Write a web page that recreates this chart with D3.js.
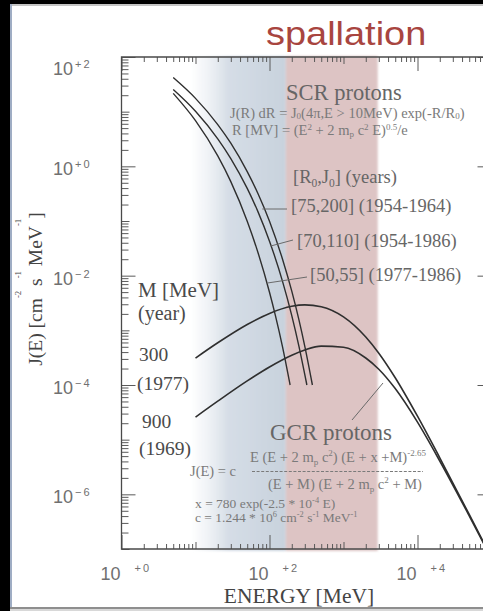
<!DOCTYPE html>
<html>
<head>
<meta charset="utf-8">
<script src="https://cdn.jsdelivr.net/npm/d3@7"></script>
<style>
  html, body { margin: 0; padding: 0; background: #000; }
  svg { display: block; }
</style>
</head>
<body>
<script>
// ---- data -------------------------------------------------------------
// Solar cosmic ray (SCR) proton spectra, energy in MeV, J(E) in cm^-2 s^-1 MeV^-1
const scrE_75_200 = [5, 10, 20, 30, 50, 70, 100, 150, 200, 250, 300, 380];
const scrJ_75_200 = [42, 17.5, 5.8, 2.65, 0.80, 0.315, 0.099, 0.020, 5.2e-3, 1.55e-3, 5.1e-4, 1.0e-4];

const scrE_70_110 = [5, 10, 20, 30, 50, 70, 100, 150, 200, 250, 300, 320];
const scrJ_70_110 = [25.5, 10.2, 3.19, 1.39, 0.395, 0.147, 0.0428, 7.85e-3, 1.86e-3, 5.1e-4, 1.55e-4, 1.0e-4];

const scrE_50_55 = [5, 10, 20, 30, 50, 70, 100, 120, 150, 190];
const scrJ_50_55 = [21.6, 6.85, 1.55, 0.526, 0.0993, 0.0263, 4.98e-3, 1.88e-3, 5.0e-4, 1.0e-4];

// Galactic cosmic ray (GCR) proton spectra for two modulation levels M
const gcrE = [10, 20, 50, 100, 200, 300, 500, 1000, 2000, 3000, 5000, 10000, 20000, 50000, 100000];
const gcrJ_M300 = [3.11e-4, 5.92e-4, 1.28e-3, 2.04e-3, 2.75e-3, 2.92e-3, 2.70e-3, 1.76e-3, 7.55e-4, 3.82e-4, 1.36e-4, 2.69e-5, 4.66e-6, 4.28e-7, 6.9e-8];
const gcrJ_M900 = [2.59e-5, 5.07e-5, 1.19e-4, 2.14e-4, 3.51e-4, 4.37e-4, 5.14e-4, 4.90e-4, 3.12e-4, 1.94e-4, 8.59e-5, 2.09e-5, 4.07e-6, 4.05e-7, 6.7e-8];

// shaded energy bands (MeV)
const blueBand = [8.5, 166];
const pinkBand = [166, 2900];

// axis decades
const energyDomain = [1, 1e5];
const fluxDomain = [1e-7, 1e2];
const energyLabelExps = [0, 2, 4];
const fluxLabelExps = [2, 0, -2, -4, -6];

// ---- layout -----------------------------------------------------------
const W = 483, H = 611;
const plot = { left: 121.5, right: 491.5, top: 57, bottom: 549 };

const x = d3.scaleLog().domain(energyDomain).range([plot.left, plot.right]);
const y = d3.scaleLog().domain(fluxDomain).range([plot.bottom, plot.top]);

const SERIF = "'Liberation Serif', 'Times New Roman', serif";
const SANS = "'Liberation Sans', Arial, sans-serif";

const svg = d3.select("body").append("svg")
  .attr("width", W).attr("height", H)
  .attr("viewBox", `0 0 ${W} ${H}`);

// frame of the slide
svg.append("rect").attr("width", W).attr("height", H).attr("fill", "#000");
svg.append("rect").attr("x", 10).attr("y", 4).attr("width", W - 10).attr("height", 604).attr("fill", "#fff");
svg.append("rect").attr("x", 10).attr("y", 608).attr("width", W - 10).attr("height", 3).attr("fill", "#d8d8d8");
svg.append("line").attr("x1", 10).attr("x2", W).attr("y1", 5).attr("y2", 5)
  .attr("stroke", "#c4c4c4").attr("stroke-width", 2);
svg.append("line").attr("x1", 11).attr("x2", 11).attr("y1", 4).attr("y2", 609)
  .attr("stroke", "#9fadc4").attr("stroke-width", 2);
svg.append("line").attr("x1", 10).attr("x2", W).attr("y1", 608).attr("y2", 608)
  .attr("stroke", "#8e8e8e").attr("stroke-width", 2);

const defs = svg.append("defs");
const fade = defs.append("linearGradient").attr("id", "blueFade")
  .attr("x1", "0%").attr("x2", "100%").attr("y1", "0%").attr("y2", "0%");
fade.append("stop").attr("offset", "0%").attr("stop-color", "#e4e9ef").attr("stop-opacity", 0);
fade.append("stop").attr("offset", "40%").attr("stop-color", "#d5dde6").attr("stop-opacity", 1);
fade.append("stop").attr("offset", "100%").attr("stop-color", "#c8d2dd").attr("stop-opacity", 1);
const soft = defs.append("filter").attr("id", "soft")
  .attr("x", "-5%").attr("y", "-2%").attr("width", "110%").attr("height", "104%");
soft.append("feGaussianBlur").attr("stdDeviation", 0.8);
defs.append("clipPath").attr("id", "plotClip").append("rect")
  .attr("x", plot.left).attr("y", plot.top)
  .attr("width", plot.right - plot.left).attr("height", plot.bottom - plot.top);

// ---- energy bands -----------------------------------------------------
const bands = svg.append("g").attr("filter", "url(#soft)");
bands.append("rect")
  .attr("x", x(blueBand[0])).attr("y", plot.top - 1)
  .attr("width", x(blueBand[1]) - x(blueBand[0])).attr("height", plot.bottom - plot.top + 3)
  .attr("fill", "url(#blueFade)");
bands.append("rect")
  .attr("x", x(pinkBand[0])).attr("y", plot.top - 1)
  .attr("width", x(pinkBand[1]) - x(pinkBand[0])).attr("height", plot.bottom - plot.top + 3)
  .attr("fill", "#ddc4c4");

// ---- axes -------------------------------------------------------------
function decadeValues(lo, hi, mults) {
  const out = [];
  for (let e = lo; e <= hi; e++) mults.forEach(m => out.push(m * Math.pow(10, e)));
  return out;
}
const xMinor = decadeValues(0, 4, [2, 3, 4, 5, 6, 7, 8, 9]);
const xOdd = [1e1, 1e3];
const xMajor = [1, 1e2, 1e4];
const yMinor = decadeValues(-7, 1, [2, 3, 4, 5, 6, 7, 8, 9]);
const yOdd = [1e-7, 1e-5, 1e-3, 1e-1, 1e1];
const yMajor = [1e-6, 1e-4, 1e-2, 1, 1e2];

function tickLayer(axisMaker, scale, values, size, tx, ty) {
  const g = svg.append("g").attr("transform", `translate(${tx},${ty})`)
    .call(axisMaker(scale).tickValues(values).tickSize(size).tickFormat(""));
  g.select(".domain").remove();
  g.selectAll(".tick line").attr("stroke", "#5a5a5a").attr("stroke-width", 1);
  return g;
}
[[xMinor, 5], [xOdd, 7], [xMajor, 14]].forEach(([v, s]) => {
  tickLayer(d3.axisBottom, x, v, -s, 0, plot.bottom);
  tickLayer(d3.axisTop, x, v, -s, 0, plot.top);
});
[[yMinor, 7], [yOdd, 8], [yMajor, 14]].forEach(([v, s]) => {
  tickLayer(d3.axisLeft, y, v, -s, plot.left, 0);
  tickLayer(d3.axisRight, y, v, -s, plot.right, 0);
});

svg.append("path")
  .attr("d", `M${plot.right},${plot.top}H${plot.left}V${plot.bottom}H${plot.right}`)
  .attr("fill", "none").attr("stroke", "#4a4a4a").attr("stroke-width", 1.3);

// tick labels, "10" with a raised exponent
const tickColor = "#707070";
fluxLabelExps.forEach(e => {
  const base = Math.max(y(Math.pow(10, e)) + 9, plot.top + 18);
  const t = svg.append("text").attr("x", 53).attr("y", base)
    .attr("font-family", SANS).attr("font-size", 18).attr("fill", tickColor);
  t.append("tspan").text("10");
  t.append("tspan").attr("dx", 2).attr("dy", -7).attr("font-size", 11)
    .attr("letter-spacing", 2).text(e >= 0 ? "+" + e : "\u2212" + (-e));
});
energyLabelExps.forEach(e => {
  const px = x(Math.pow(10, e));
  svg.append("text").attr("x", px - 1).attr("y", 579.5).attr("text-anchor", "end")
    .attr("font-family", SANS).attr("font-size", 18).attr("fill", tickColor).text("10");
  svg.append("text").attr("x", px + 13).attr("y", 572)
    .attr("font-family", SANS).attr("font-size", 11).attr("letter-spacing", 2)
    .attr("fill", tickColor).text("+" + e);
});

// axis titles
svg.append("text").attr("x", 299).attr("y", 603).attr("text-anchor", "middle")
  .attr("font-family", SERIF).attr("font-size", 21.5).attr("fill", "#444")
  .text("ENERGY [MeV]");

function rich(parent, px, py, parts, size, color, opts) {
  const o = Object.assign({ raise: 0.42, drop: 0.22, ratio: 0.62 }, opts || {});
  const t = parent.append("text").attr("x", px).attr("y", py)
    .attr("font-family", SERIF).attr("font-size", size).attr("fill", color);
  const small = size * o.ratio;
  let shift = 0;
  parts.forEach(p => {
    const [s, kind] = typeof p === "string" ? [p, "n"] : p;
    const target = kind === "sup" ? -size * o.raise : kind === "sub" ? size * o.drop : 0;
    const ts = t.append("tspan").attr("dy", target - shift).text(s);
    if (kind !== "n") ts.attr("font-size", small);
    shift = target;
  });
  return t;
}

rich(svg, 0, 0, ["J(E) [cm", ["-2", "sup"], " s", ["-1", "sup"], " MeV", ["-1", "sup"], "]"], 19.5, "#444",
  { raise: 1.1, ratio: 0.45 })
  .attr("text-anchor", "middle").attr("transform", "translate(42,289) rotate(-90)");

// ---- title -----------------------------------------------------------
svg.append("text").attr("transform", "translate(266,45) scale(1.15,1)")
  .attr("font-family", SANS).attr("font-size", 33).attr("fill", "#a8453f")
  .text("spallation");

// ---- curves ----------------------------------------------------------
const line = d3.line().x(d => x(d[0])).y(d => y(d[1])).curve(d3.curveMonotoneX);
const curves = svg.append("g").attr("clip-path", "url(#plotClip)")
  .attr("fill", "none").attr("stroke", "#2f2f2f");
[[scrE_75_200, scrJ_75_200], [scrE_70_110, scrJ_70_110], [scrE_50_55, scrJ_50_55]].forEach(([E, J]) => {
  curves.append("path").attr("d", line(E.map((e, i) => [e, J[i]]))).attr("stroke-width", 1.4);
});
[gcrJ_M300, gcrJ_M900].forEach(J => {
  curves.append("path").attr("d", line(gcrE.map((e, i) => [e, J[i]]))).attr("stroke-width", 1.6);
});

// ---- SCR annotations --------------------------------------------------
const scrGrey = "#666";
svg.append("text").attr("x", 286).attr("y", 99.5).attr("font-family", SERIF)
  .attr("font-size", 22.5).attr("fill", scrGrey).text("SCR protons");
rich(svg, 230, 117.5, ["J(R) dR = J", ["0", "sub"], "(4\u03c0,E > 10MeV) exp(-R/R", ["0", "sub"], ")"], 14.5, "#7a7a7a", { drop: 0.1 });
rich(svg, 232, 134.5, ["R [MV] = (E", ["2", "sup"], " + 2 m", ["p", "sub"], " c", ["2", "sup"], " E)", ["0.5", "sup"], "/e"], 14.5, "#7a7a7a", { raise: 0.34, drop: 0.14 });
rich(svg, 293, 183, ["[R", ["0", "sub"], ",J", ["0", "sub"], "] (years)"], 18.5, scrGrey);
rich(svg, 291, 212, ["[75,200] (1954-1964)"], 18.5, scrGrey);
rich(svg, 297, 247, ["[70,110] (1954-1986)"], 18.5, scrGrey);
rich(svg, 310, 281, ["[50,55] (1977-1986)"], 18.5, scrGrey);

const leaders = svg.append("g").attr("stroke", "#6a6a6a").attr("stroke-width", 1);
leaders.append("line").attr("x1", x(80)).attr("y1", 209).attr("x2", 287).attr("y2", 209);
leaders.append("line").attr("x1", x(104)).attr("y1", 246).attr("x2", 293).attr("y2", 240);
leaders.append("line").attr("x1", x(94)).attr("y1", 283).attr("x2", 307).attr("y2", 277);
leaders.append("line").attr("x1", 352).attr("y1", 420).attr("x2", 383).attr("y2", 383);

// ---- GCR annotations --------------------------------------------------
const gcrDark = "#4a4a4a";
rich(svg, 138, 297, ["M [MeV]"], 21, gcrDark);
rich(svg, 138, 320, ["(year)"], 20, gcrDark);
rich(svg, 139, 361, ["300"], 19.5, gcrDark);
rich(svg, 137, 390, ["(1977)"], 19.5, gcrDark);
rich(svg, 142, 428, ["900"], 19.5, gcrDark);
rich(svg, 139, 455, ["(1969)"], 19.5, gcrDark);

const fGrey = "#7a7a7a";
svg.append("text").attr("x", 270).attr("y", 440).attr("font-family", SERIF)
  .attr("font-size", 23).attr("fill", scrGrey).text("GCR protons");
rich(svg, 250, 462, ["E (E + 2 m", ["p", "sub"], " c", ["2", "sup"], ") (E + x +M)", ["-2.65", "sup"]], 14.5, fGrey);
rich(svg, 190, 476, ["J(E) = c"], 14.5, fGrey);
svg.append("line").attr("x1", 252).attr("x2", 423).attr("y1", 471.5).attr("y2", 471.5)
  .attr("stroke", fGrey).attr("stroke-width", 1).attr("stroke-dasharray", "3,1.6");
rich(svg, 268, 489, ["(E + M) (E + 2 m", ["p", "sub"], " c", ["2", "sup"], " + M)"], 14.5, fGrey);
rich(svg, 195, 507.5, ["x = 780 exp(-2.5 * 10", ["-4", "sup"], " E)"], 13.5, fGrey, { raise: 0.36 });
rich(svg, 195, 522, ["c = 1.244 * 10", ["6", "sup"], " cm", ["-2", "sup"], " s", ["-1", "sup"], " MeV", ["-1", "sup"]], 13.5, fGrey, { raise: 0.36 });
</script>
</body>
</html>
